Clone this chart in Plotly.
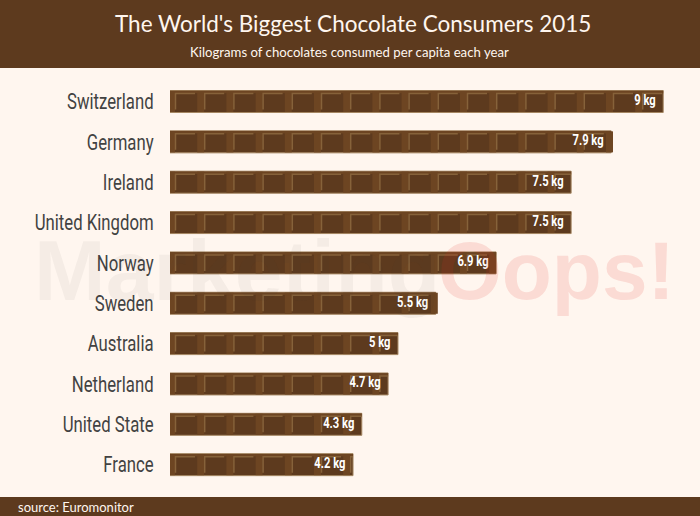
import plotly.graph_objects as go

countries = ["Switzerland", "Germany", "Ireland", "United Kingdom", "Norway",
             "Sweden", "Australia", "Netherland", "United State", "France"]
value_labels = ["9 kg", "7.9 kg", "7.5 kg", "7.5 kg", "6.9 kg",
                "5.5 kg", "5 kg", "4.7 kg", "4.3 kg", "4.2 kg"]
# Drawn bar lengths (the bars are not strictly proportional to the labels)
bar_lengths = [9.0, 8.05, 7.32, 7.32, 5.95, 4.85, 4.16, 3.98, 3.50, 3.34]

W, H = 700, 516
BROWN = "#5d3a1e"
BG = "#fff6ef"
PX_X = 54.8      # px per axis unit
PX_Y = 40.35     # px per row
LEFT, TOP, BOTTOM = 170, 68, 497
ROW0 = 101.5
PITCH = 29.2 / PX_X
rows = list(range(len(countries)))


def dx(p):
    return p / PX_X


def dy(p):
    return p / PX_Y


grooves_x, grooves_y, inner_x, inner_y, tops_x, tops_y = [], [], [], [], [], []
for r, length in zip(rows, bar_lengths):
    tops_x += [0, length, None]
    tops_y += [r - dy(9.5), r - dy(9.5), None]
    k = 0
    while k * PITCH < length:
        left = k * PITCH
        g = left + dx(1.5)
        if g < length:
            grooves_x += [g, g, None]
            grooves_y += [r - dy(10.5), r + dy(10.5), None]
        a = left + dx(5.5)
        b = min(left + dx(25), length)
        if a < length:
            inner_x += [b, a, a, None]
            inner_y += [r - dy(8), r - dy(8), r + dy(8), None]
        k += 1

fig = go.Figure()
fig.add_bar(y=rows, x=bar_lengths, orientation="h", width=22 / PX_Y,
            marker=dict(color=BROWN, line=dict(color="#a58763", width=1)),
            hoverinfo="skip", showlegend=False)
fig.add_scatter(x=tops_x, y=tops_y, mode="lines", line=dict(color="#6d4522", width=2.5),
                hoverinfo="skip", showlegend=False)
fig.add_scatter(x=grooves_x, y=grooves_y, mode="lines", line=dict(color="#6d4522", width=7),
                hoverinfo="skip", showlegend=False)
fig.add_scatter(x=inner_x, y=inner_y, mode="lines", line=dict(color="#86623a", width=1.5),
                hoverinfo="skip", showlegend=False)
fig.add_scatter(x=[v - dx(7.5) for v in bar_lengths], y=rows, mode="text",
                text=value_labels, textposition="middle left",
                textfont=dict(family="Roboto", size=14, color="white", weight="bold"),
                hoverinfo="skip", showlegend=False)

fig.update_layout(
    width=W, height=H, margin=dict(l=0, r=0, t=0, b=0, autoexpand=False),
    paper_bgcolor=BG, plot_bgcolor=BG,
    xaxis=dict(domain=[LEFT / W, 1], range=[0, (W - LEFT) / PX_X], visible=False),
    yaxis=dict(domain=[1 - BOTTOM / H, 1 - TOP / H],
               range=[(BOTTOM - ROW0) / PX_Y, (TOP - ROW0) / PX_Y],
               automargin=False,
               tickmode="array", tickvals=rows, ticktext=countries,
               ticks="outside", ticklen=11, tickcolor="rgba(0,0,0,0)",
               showgrid=False, zeroline=False, showline=False,
               tickfont=dict(family="Roboto", size=22, color="#424242")),
    shapes=[
        dict(type="rect", xref="paper", yref="paper", x0=0, x1=1, y0=1 - TOP / H, y1=1,
             fillcolor=BROWN, line_width=0, layer="below"),
        dict(type="rect", xref="paper", yref="paper", x0=0, x1=1, y0=0, y1=1 - BOTTOM / H,
             fillcolor=BROWN, line_width=0, layer="below"),
    ],
    annotations=[
        dict(text="The World's Biggest Chocolate Consumers 2015", xref="paper", yref="paper",
             x=352.5 / W, y=1 - 24 / H, yanchor="middle", showarrow=False,
             font=dict(family="Lato", size=22.5, color=BG)),
        dict(text="Kilograms of chocolates consumed per capita each year", xref="paper", yref="paper",
             x=349.5 / W, y=1 - 52.5 / H, yanchor="middle", showarrow=False,
             font=dict(family="Lato", size=13.2, color=BG)),
        dict(text="source: Euromonitor", xref="paper", yref="paper", xanchor="left",
             x=16 / W, y=1 - 507 / H, yanchor="middle", showarrow=False,
             font=dict(family="Lato", size=13, color=BG)),
        dict(text="Marketing", xref="paper", yref="paper", xanchor="right",
             x=442 / W, y=1 - 270 / H, yanchor="middle", showarrow=False,
             font=dict(family="Liberation Sans", size=86, weight="bold", color="rgba(50,50,50,0.05)")),
        dict(text="Oops!", xref="paper", yref="paper", xanchor="left",
             x=436 / W, y=1 - 270 / H, yanchor="middle", showarrow=False,
             font=dict(family="Liberation Sans", size=82, weight="bold", color="rgba(225,40,30,0.13)")),
    ],
)

# The reference's labels use a condensed face, which is not installed: narrow the real text.
post = """
document.body.style.margin = '0';
document.documentElement.style.overflow = 'hidden';
var gd = document.getElementsByClassName('plotly-graph-div')[0];
gd.style.position = 'fixed'; gd.style.left = '0'; gd.style.top = '0'; gd.style.margin = '0';
var sc = gd.querySelector('.svg-container'); if (sc) { sc.style.margin = '0'; }
function squeeze() {
  gd.querySelectorAll('.ytick text').forEach(function (t) {
    if (!t.dataset.sq) { t.dataset.sq = 1;
      t.setAttribute('textLength', t.getComputedTextLength() * 0.76);
      t.setAttribute('lengthAdjust', 'spacingAndGlyphs'); }
  });
  gd.querySelectorAll('.textpoint text').forEach(function (t) {
    if (!t.dataset.sq) { t.dataset.sq = 1;
      t.setAttribute('textLength', t.getComputedTextLength() * 0.8);
      t.setAttribute('lengthAdjust', 'spacingAndGlyphs'); }
  });
}
squeeze();
gd.on('plotly_afterplot', squeeze);
setTimeout(squeeze, 50);
"""
fig.write_html("out.html", post_script=post, config={"displayModeBar": False},
               default_width="700px", default_height="516px")
